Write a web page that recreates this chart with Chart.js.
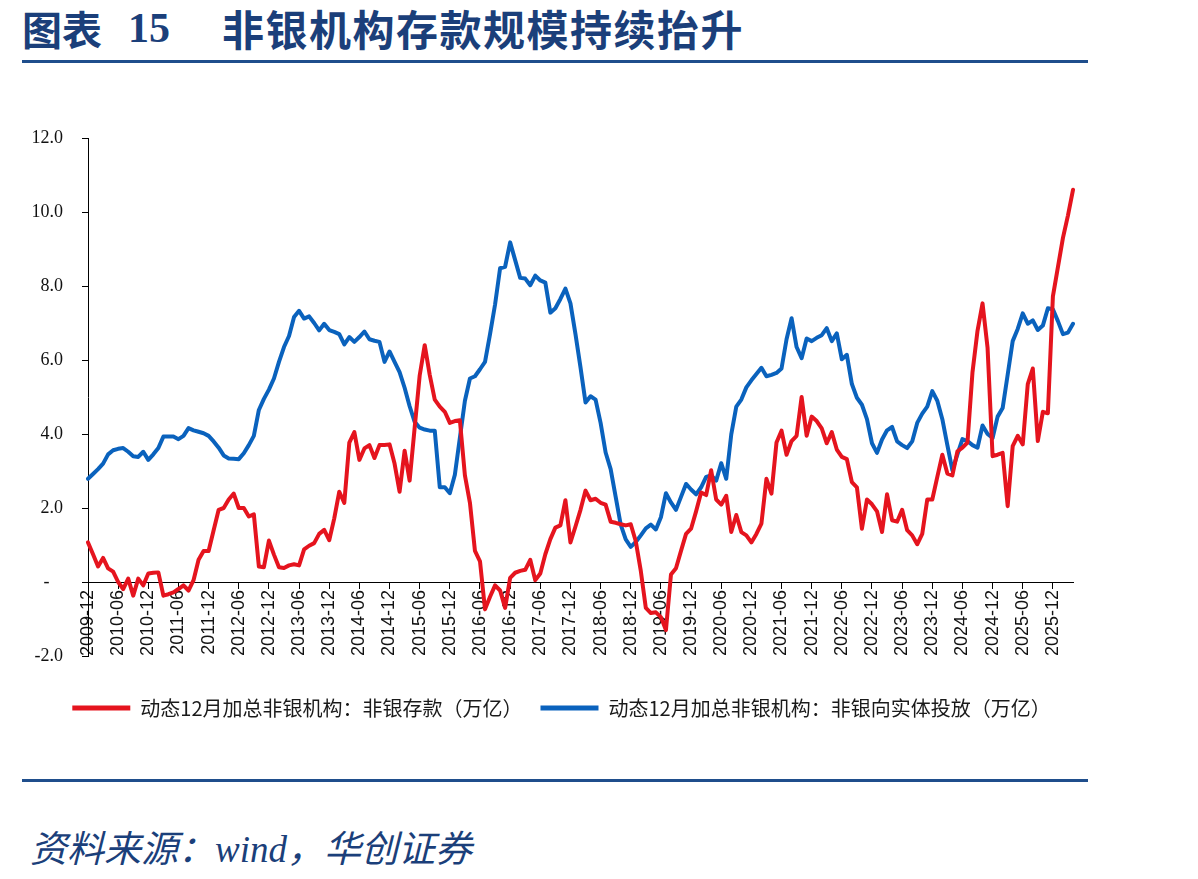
<!DOCTYPE html>
<html>
<head>
<meta charset="utf-8">
<script src="https://cdn.jsdelivr.net/npm/chart.js@4.4.1/dist/chart.umd.min.js"></script>
<style>
  html, body { margin: 0; padding: 0; background: #fff; }
  body { width: 1198px; height: 879px; position: relative; overflow: hidden; }
  .t { position: absolute; top: 0; height: 56px; line-height: 56px; color: #1b3f7a; font-weight: 700; white-space: nowrap; }
  .cjk { font-family: "Noto Sans CJK SC", sans-serif; }
  .rule { position: absolute; left: 22px; width: 1066px; height: 3px; background: #1f4e8c; }
  .src { position: absolute; left: 30px; top: 824px; line-height: 44px; font-size: 37px; font-style: italic; color: #1b3f7a; font-family: "Noto Sans CJK SC", sans-serif; white-space: nowrap; }
  .src .en { font-family: "Liberation Serif", serif; }
  #chart { position: absolute; left: 0; top: 100px; }
</style>
</head>
<body>
<div class="t cjk" style="left:22px;font-size:40px;">图表</div>
<div class="t" style="left:128px;font-size:42px;font-family:'Liberation Serif',serif;">15</div>
<div class="t cjk" style="left:222px;font-size:42px;letter-spacing:1.5px;">非银机构存款规模持续抬升</div>
<div class="rule" style="top:60px;"></div>

<canvas id="chart" width="1108" height="640"></canvas>

<div class="rule" style="top:779px;"></div>
<div class="src">资料来源：<span class="en">wind</span>，华创证券</div>

<script>
(function () {
  'use strict';

  // monthly, starting 2009-12
  var startYear = 2009;
  var startMonth = 12;

  var seriesNames = [
    '动态12月加总非银机构：非银存款（万亿）',
    '动态12月加总非银机构：非银向实体投放（万亿）'
  ];

  var deposits = [
    1.07, 0.75, 0.42, 0.65, 0.37, 0.28, 0.00, -0.19, 0.09, -0.37,
    0.09, -0.09, 0.23, 0.25, 0.26, -0.37, -0.33, -0.28, -0.19, -0.09,
    -0.23, 0.05, 0.60, 0.84, 0.84, 1.40, 1.95, 2.00, 2.23, 2.39,
    2.00, 2.00, 1.77, 1.83, 0.42, 0.40, 1.12, 0.74, 0.40, 0.38,
    0.45, 0.48, 0.45, 0.88, 0.98, 1.05, 1.30, 1.41, 1.13, 1.72,
    2.44, 2.14, 3.77, 4.05, 3.30, 3.61, 3.70, 3.35, 3.70, 3.70,
    3.72, 3.20, 2.44, 3.55, 2.74, 4.17, 5.58, 6.40, 5.60, 4.93,
    4.74, 4.60, 4.30, 4.35, 4.37, 2.88, 2.14, 0.84, 0.56, -0.74,
    -0.40, -0.09, -0.23, -0.70, 0.11, 0.25, 0.30, 0.33, 0.60, 0.05,
    0.23, 0.75, 1.16, 1.47, 1.53, 2.21, 1.07, 1.50, 1.95, 2.47,
    2.21, 2.25, 2.14, 2.09, 1.63, 1.60, 1.56, 1.53, 1.56, 1.10,
    0.30, -0.70, -0.84, -0.82, -0.95, -1.30, 0.20, 0.37, 0.84, 1.30,
    1.44, 1.91, 2.42, 2.35, 3.02, 2.23, 2.09, 2.33, 1.35, 1.81,
    1.35, 1.26, 1.07, 1.30, 1.58, 2.79, 2.39, 3.77, 4.09, 3.44,
    3.81, 3.95, 5.00, 3.95, 4.47, 4.35, 4.15, 3.75, 4.05, 3.58,
    3.38, 3.32, 2.70, 2.56, 1.44, 2.23, 2.10, 1.91, 1.35, 2.37,
    1.67, 1.63, 1.95, 1.40, 1.26, 1.02, 1.30, 2.23, 2.23, 2.84,
    3.44, 2.93, 2.88, 3.53, 3.63, 3.77, 5.67, 6.79, 7.53, 6.33,
    3.40, 3.44, 3.49, 2.05, 3.67, 3.95, 3.72, 5.35, 5.77, 3.81,
    4.60, 4.56, 7.72, 8.51, 9.30, 9.91, 10.60
  ];

  var realEconomy = [
    2.79, 2.92, 3.05, 3.20, 3.45, 3.56, 3.60, 3.62, 3.52, 3.40,
    3.38, 3.52, 3.30, 3.45, 3.62, 3.93, 3.93, 3.93, 3.86, 3.95,
    4.16, 4.10, 4.06, 4.02, 3.95, 3.80, 3.63, 3.42, 3.34, 3.33,
    3.32, 3.48, 3.70, 3.95, 4.65, 4.95, 5.20, 5.50, 5.95, 6.35,
    6.65, 7.16, 7.33, 7.12, 7.18, 7.00, 6.80, 6.98, 6.81, 6.76,
    6.70, 6.42, 6.62, 6.49, 6.62, 6.77, 6.56, 6.52, 6.49, 5.95,
    6.23, 5.95, 5.67, 5.25, 4.75, 4.33, 4.17, 4.12, 4.09, 4.09,
    2.56, 2.56, 2.40, 2.90, 3.90, 4.90, 5.50, 5.56, 5.75, 5.95,
    6.70, 7.50, 8.48, 8.52, 9.18, 8.70, 8.22, 8.20, 8.02, 8.28,
    8.15, 8.09, 7.28, 7.40, 7.65, 7.93, 7.53, 6.70, 5.80, 4.85,
    5.02, 4.93, 4.30, 3.50, 3.05, 2.30, 1.55, 1.15, 0.95, 1.08,
    1.26, 1.45, 1.55, 1.42, 1.75, 2.40, 2.15, 1.95, 2.30, 2.65,
    2.50, 2.37, 2.56, 2.84, 2.88, 2.74, 3.21, 2.79, 3.99, 4.74,
    4.93, 5.26, 5.45, 5.62, 5.79, 5.56, 5.60, 5.65, 5.77, 6.56,
    7.13, 6.35, 6.05, 6.58, 6.51, 6.60, 6.67, 6.86, 6.51, 6.72,
    6.02, 6.14, 5.35, 4.98, 4.79, 4.40, 3.75, 3.49, 3.85, 4.10,
    4.19, 3.80, 3.70, 3.62, 3.80, 4.30, 4.55, 4.74, 5.16, 4.90,
    4.40, 3.70, 3.02, 3.45, 3.86, 3.81, 3.70, 3.63, 4.23, 4.00,
    3.89, 4.47, 4.70, 5.60, 6.51, 6.84, 7.26, 6.98, 7.07, 6.81,
    6.93, 7.40, 7.37, 7.05, 6.70, 6.74, 6.98
  ];

  var yTicks = [-2, 0, 2, 4, 6, 8, 10, 12];
  var labelEvery = 6;

  var months = [];
  for (var i = 0; i < deposits.length; i++) {
    var t = startYear * 12 + (startMonth - 1) + i;
    var y = Math.floor(t / 12), m = t % 12 + 1;
    months.push(y + '-' + (m < 10 ? '0' + m : m));
  }

  var red = '#e5141e';
  var blue = '#0a62bd';

  // the legend in the source sits a little right of the canvas centre
  var legendShift = {
    id: 'legendShift',
    afterLayout: function (chart) {
      chart.legend.left += 25;
      chart.legend.right += 25;
    }
  };

  new Chart(document.getElementById('chart'), {
    type: 'line',
    data: {
      labels: months,
      datasets: [{
        label: seriesNames[0],
        data: deposits,
        borderColor: red,
        backgroundColor: red,
        borderWidth: 4,
        pointRadius: 0,
        tension: 0,
        borderJoinStyle: 'round',
        borderCapStyle: 'round'
      }, {
        label: seriesNames[1],
        data: realEconomy,
        borderColor: blue,
        backgroundColor: blue,
        borderWidth: 4,
        pointRadius: 0,
        tension: 0,
        borderJoinStyle: 'round',
        borderCapStyle: 'round'
      }]
    },
    plugins: [legendShift],
    options: {
      responsive: false,
      animation: false,
      layout: { padding: { left: 0, right: 35, top: 38, bottom: 12 } },
      plugins: {
        tooltip: { enabled: false },
        legend: {
          position: 'bottom',
          title: { display: true, text: '', font: { size: 24, lineHeight: 1 }, padding: 0 },
          labels: {
            boxWidth: 58,
            boxHeight: 5,
            padding: 18,
            color: '#1a1a1a',
            font: { family: '"Noto Sans CJK SC", sans-serif', size: 20 },
            generateLabels: function (chart) {
              var items = Chart.defaults.plugins.legend.labels.generateLabels(chart);
              items.forEach(function (it) { it.lineWidth = 0; it.fillStyle = it.strokeStyle; });
              return items;
            }
          }
        }
      },
      scales: {
        x: {
          type: 'category',
          position: { y: 0 },
          offset: false,
          grid: {
            drawOnChartArea: false,
            tickLength: 6,
            tickColor: function (c) { return c.index % labelEvery === 0 ? '#000' : 'rgba(0,0,0,0)'; }
          },
          border: { display: true, color: '#000', width: 1 },
          ticks: {
            autoSkip: false,
            minRotation: 90,
            maxRotation: 90,
            padding: 2,
            color: '#111',
            font: { family: '"Liberation Sans", Arial, sans-serif', size: 18 },
            callback: function (v, idx) { return idx % labelEvery === 0 ? this.getLabelForValue(v) : ''; }
          }
        },
        y: {
          min: yTicks[0],
          max: yTicks[yTicks.length - 1],
          afterFit: function (s) { s.width = 88; },
          afterBuildTicks: function (s) { s.ticks = yTicks.map(function (v) { return { value: v }; }); },
          grid: { drawOnChartArea: false, tickLength: 6, tickColor: '#000' },
          border: { display: true, color: '#000', width: 1 },
          ticks: {
            padding: 19,
            color: '#111',
            font: { family: '"Liberation Serif", "Times New Roman", serif', size: 18 },
            callback: function (v) { return v === 0 ? '-   ' : v.toFixed(1); }
          }
        }
      }
    }
  });
})();
</script>
</body>
</html>
